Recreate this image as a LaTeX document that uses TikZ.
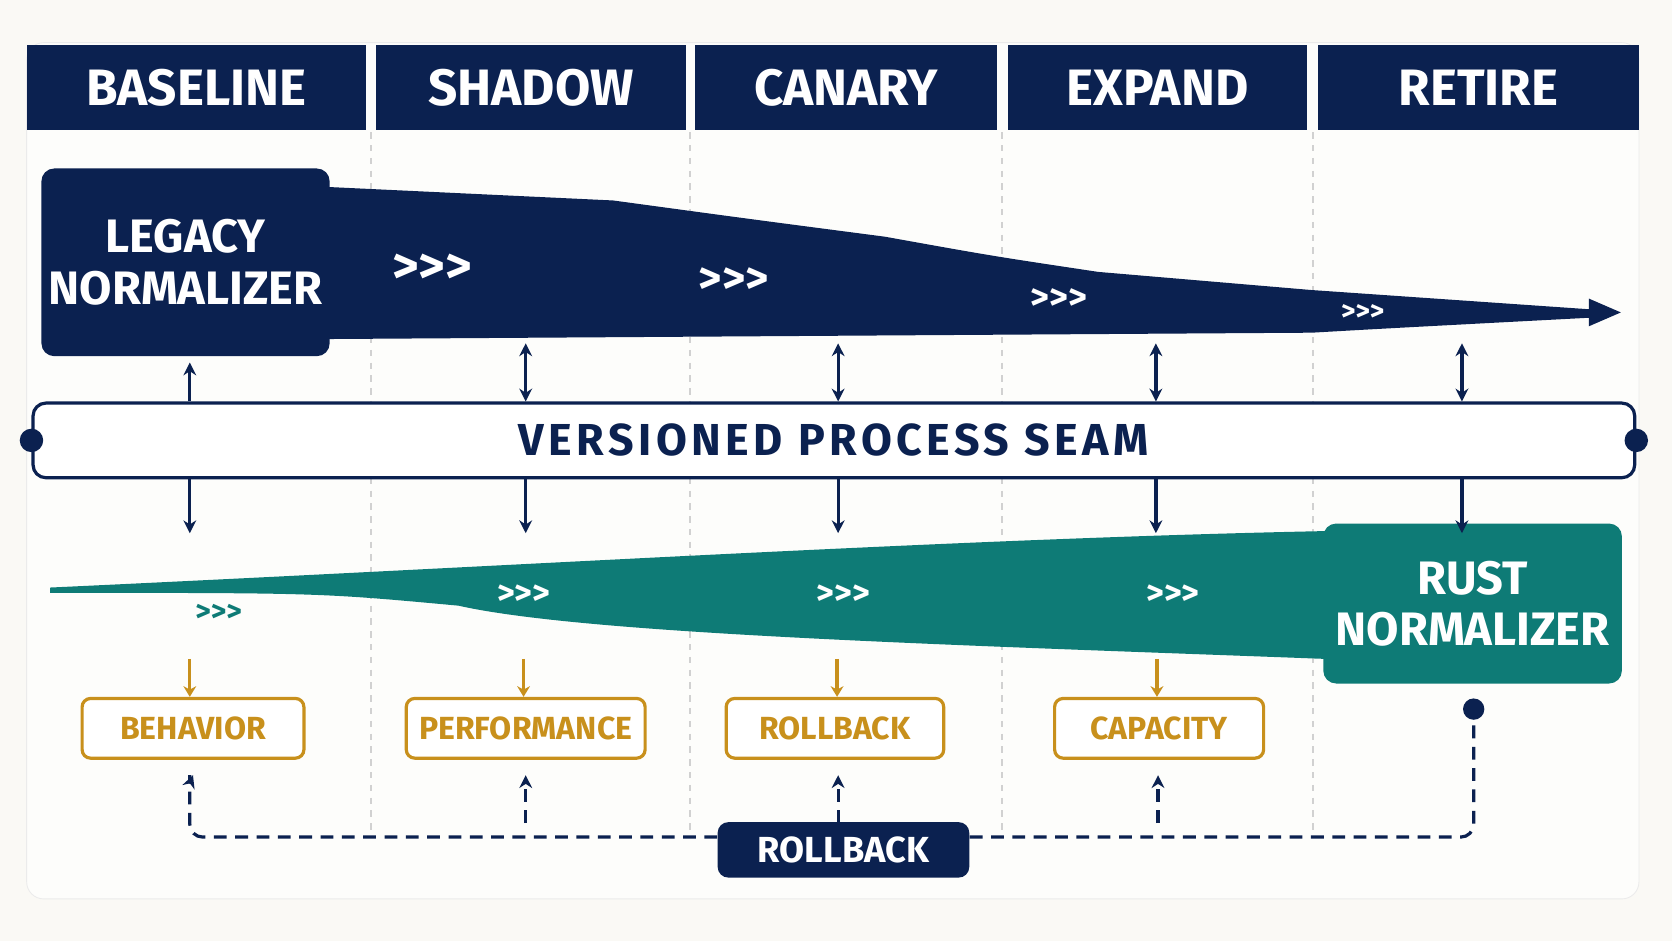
\documentclass[tikz,border=0pt]{standalone}
\usepackage{fontspec}
\setmainfont{Fira Sans}
\usetikzlibrary{arrows.meta,positioning}
\definecolor{navy}{HTML}{0B2150}
\definecolor{teal}{HTML}{0E7B76}
\definecolor{gold}{HTML}{C8901C}
\definecolor{paper}{HTML}{FAF9F5}
\tikzset{
  head/.style={fill=navy,text=white,font=\fontsize{24}{26}\selectfont\bfseries,inner sep=0},
  gate/.style={draw=gold,line width=1.5pt,fill=white,rounded corners=4pt,text=gold,font=\fontsize{15}{17}\selectfont\bfseries,minimum height=28pt},
  link/.style={navy,line width=1.5pt,-{Stealth[length=6pt,width=6pt]}},
  both/.style={navy,line width=1.5pt,{Stealth[length=6pt,width=6pt]}-{Stealth[length=6pt,width=6pt]}},
  test/.style={gold,line width=1.5pt,-{Stealth[length=5pt,width=6pt]}},
  back/.style={navy,line width=1.5pt,dashed,dash pattern=on 6pt off 4pt}
}
\begin{document}
\begin{tikzpicture}[x=0.5pt,y=-0.5pt]
\useasboundingbox (0,0) rectangle (1568,882);
\fill[paper] (0,0) rectangle (1568,882);
\draw[black!8,fill=white!60!paper,rounded corners=8pt] (25,40) rectangle (1537,843);

% phase headers
\foreach \a/\b/\t in {25/343/BASELINE,353/643/SHADOW,652/935/CANARY,945/1226/EXPAND,1236/1537/RETIRE}
  \node[head,minimum width=(\b-\a)*0.5pt,minimum height=40pt] (\t) at ({(\a+\b)/2},82) {\t};
\foreach \x in {348,647,940,1231}
  \draw[black!18,line width=1pt,dashed] (\x,124) -- (\x,780);

% legacy path
\fill[navy] (300,175) -- (575,188) .. controls (700,205) .. (830,222) .. controls (930,240) .. (1030,255)
  -- (1230,272) -- (1490,290) -- (1490,280) -- (1520,293) -- (1490,306) -- (1490,298)
  .. controls (1300,308) .. (1230,312) -- (300,318) -- cycle;
\node[fill=navy,rounded corners=6pt,minimum width=131pt,minimum height=88pt,align=center,text=white,font=\fontsize{22}{24}\selectfont\bfseries] (legacy) at (174,246) {LEGACY\\NORMALIZER};
\foreach \x/\y/\s in {405/252/24,688/263/21,993/280/17,1278/293/13}
  \node[text=white,font=\fontsize{\s}{\s}\selectfont\bfseries] at (\x,\y) {>{}>{}>};

% seam
\node[draw=navy,line width=1.5pt,fill=white,rounded corners=6pt,minimum width=751pt,minimum height=35pt,font=\fontsize{21}{23}\selectfont\bfseries,text=navy] (seam) at (782,413) {\addfontfeature{LetterSpace=10}VERSIONED PROCESS SEAM};
\fill[navy] (seam.west) circle (5.5pt) (seam.east) circle (5.5pt);

% rust path
\fill[teal] (47,551) .. controls (500,530) and (900,505) .. (1245,498) -- (1245,618)
  .. controls (900,605) and (550,595) .. (430,568) .. controls (300,556) .. (47,556) -- cycle;
\node[fill=teal,rounded corners=6pt,minimum width=140pt,minimum height=75pt,align=center,text=white,font=\fontsize{22}{24}\selectfont\bfseries] (rust) at (1381,566) {RUST\\NORMALIZER};
\node[text=teal,font=\fontsize{14}{14}\selectfont\bfseries] at (205,575) {>{}>{}>};
\foreach \x in {491,791,1100}
  \node[text=white,font=\fontsize{16}{16}\selectfont\bfseries] at (\x,558) {>{}>{}>};

% seam links
\coordinate (l1) at (178,340);
\draw[link] (seam.north -| l1) -- (l1);
\foreach \x [count=\i] in {493,786,1084,1371} {
  \coordinate (t\i) at (\x,322);
  \draw[both] (t\i) -- (seam.north -| t\i);
}
\foreach \x [count=\i] in {178,493,786,1084,1371} {
  \coordinate (d\i) at (\x,500);
  \draw[link] (seam.south -| d\i) -- (d\i);
}

% gates
\node[gate,minimum width=104pt] (behavior) at (181,683) {BEHAVIOR};
\node[gate,minimum width=112pt] (performance) at (493,683) {PERFORMANCE};
\node[gate,minimum width=102pt] (rollcheck) at (783,683) {ROLLBACK};
\node[gate,minimum width=98pt] (capacity) at (1087,683) {CAPACITY};
\foreach \g/\x in {behavior/178,performance/491,rollcheck/785,capacity/1085} {
  \coordinate (g) at (\x,618);
  \draw[test] (g) -- (g |- \g.north);
}

% rollback
\node[fill=navy,rounded corners=5pt,minimum width=118pt,minimum height=26pt,text=white,font=\fontsize{17}{19}\selectfont\bfseries] (rollback) at (791,797) {ROLLBACK};
\coordinate (tap) at (1382,665);
\fill[navy] (tap) circle (5pt);
\draw[back,rounded corners=6pt] (rollback.west |- 0,785) -| (178,727);
\draw[back,rounded corners=6pt] (rollback.east |- 0,785) -| (tap);
\draw[navy,line width=1.5pt,-{Stealth[length=6pt,width=6pt]}] (178,735) -- (behavior.south |- 0,727);
\foreach \x in {493,786,1086}
  \draw[back,-{Stealth[length=6pt,width=6pt]}] (\x,772) -- (\x,727);
\end{tikzpicture}
\end{document}
